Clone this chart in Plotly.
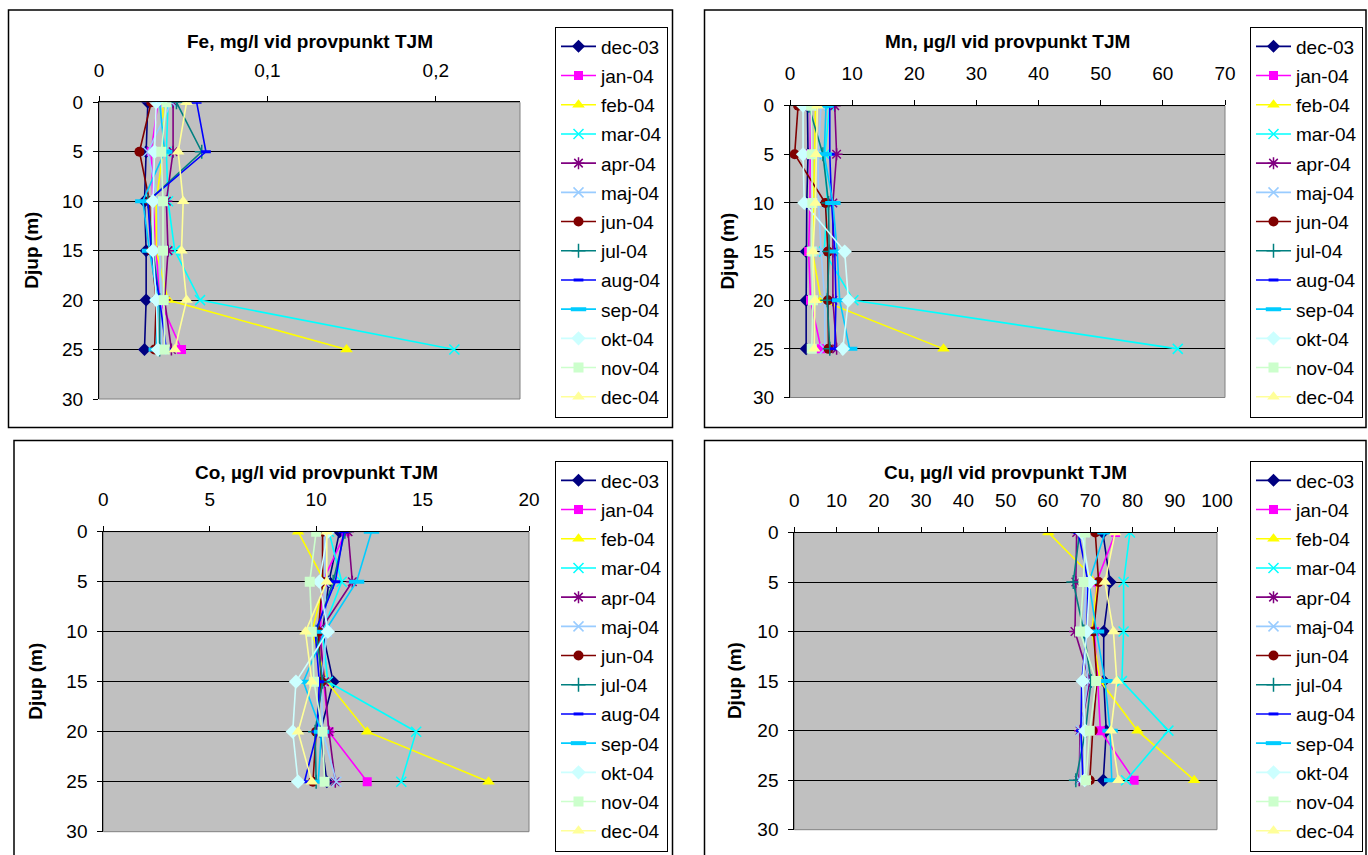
import plotly.graph_objects as go

# ---------------- data ----------------
depths = [0, 5, 10, 15, 20, 25]
months = ["dec-03", "jan-04", "feb-04", "mar-04", "apr-04", "maj-04", "jun-04",
          "jul-04", "aug-04", "sep-04", "okt-04", "nov-04", "dec-04"]

fe_title = "Fe, mg/l vid provpunkt TJM"
fe_dec03 = [0.029, 0.028, 0.027, 0.028, 0.028, 0.027]
fe_jan04 = [0.035, 0.031, 0.032, 0.034, 0.036, 0.049]
fe_feb04 = [0.038, 0.038, 0.034, 0.034, 0.041, 0.147]
fe_mar04 = [0.041, 0.040, 0.041, 0.045, 0.060, 0.211]
fe_apr04 = [0.044, 0.044, 0.040, 0.041, 0.039, 0.043]
fe_maj04 = [0.043, 0.029, 0.035, 0.036, 0.037, 0.037]
fe_jun04 = [0.031, 0.024, 0.030, 0.031, 0.034, 0.033]
fe_jul04 = [0.046, 0.061, 0.029, 0.032, 0.036, 0.036]
fe_aug04 = [0.058, 0.0635, 0.029, 0.031, 0.036, 0.040]
fe_sep04 = [0.036, 0.039, 0.026, 0.030, 0.035, 0.034]
fe_okt04 = [0.034, 0.033, 0.032, 0.032, 0.034, 0.035]
fe_nov04 = [0.040, 0.037, 0.038, 0.038, 0.0385, 0.039]
fe_dec04 = [0.052, 0.047, 0.050, 0.049, 0.052, 0.045]

mn_title = "Mn, µg/l vid provpunkt TJM"
mn_dec03 = [2.8, 2.9, 2.7, 2.6, 2.6, 2.6]
mn_jan04 = [3.3, 3.3, 3.2, 3.0, 3.3, 5.0]
mn_feb04 = [4.1, 4.0, 3.8, 3.6, 5.0, 24.7]
mn_mar04 = [6.4, 5.6, 6.0, 5.5, 10.2, 62.4]
mn_apr04 = [7.2, 7.5, 6.9, 6.9, 6.9, 7.5]
mn_maj04 = [5.0, 4.5, 4.6, 5.0, 5.6, 5.6]
mn_jun04 = [1.3, 0.75, 5.7, 6.1, 6.1, 6.2]
mn_jul04 = [3.0, 5.3, 6.2, 6.3, 6.0, 6.4]
mn_aug04 = [6.4, 6.4, 6.7, 7.2, 7.4, 7.2]
mn_sep04 = [5.8, 5.5, 6.9, 7.6, 8.0, 9.6]
mn_okt04 = [2.1, 2.1, 2.3, 8.8, 9.4, 8.5]
mn_nov04 = [3.4, 3.5, 3.6, 3.5, 3.7, 3.5]
mn_dec04 = [4.4, 4.2, 4.1, 3.7, 4.0, 3.9]

co_title = "Co, µg/l vid provpunkt TJM"
co_dec03 = [11.1, 10.6, 10.3, 10.8, 10.2, 10.5]
co_jan04 = [11.4, 10.3, 10.2, 10.35, 10.6, 12.4]
co_feb04 = [9.15, 10.4, 9.8, 10.5, 12.4, 18.1]
co_mar04 = [10.6, 11.2, 10.3, 10.55, 14.7, 14.0]
co_apr04 = [11.5, 11.7, 10.15, 10.4, 10.6, 10.9]
co_maj04 = [10.4, 10.4, 10.5, 10.25, 10.3, 10.95]
co_jun04 = [10.3, 10.3, 10.1, 10.25, 10.0, 9.85]
co_jul04 = [11.35, 10.8, 10.0, 10.3, 9.95, 10.0]
co_aug04 = [11.3, 10.9, 9.95, 10.15, 10.05, 9.45]
co_sep04 = [12.6, 11.9, 10.4, 9.4, 10.25, 10.1]
co_okt04 = [10.55, 10.15, 10.55, 9.05, 8.9, 9.15]
co_nov04 = [10.0, 9.7, 9.8, 9.9, 10.3, 10.4]
co_dec04 = [10.5, 10.5, 9.5, 9.8, 9.15, 9.8]

cu_title = "Cu, µg/l vid provpunkt TJM"
cu_dec03 = [73.0, 74.7, 73.2, 73.2, 73.8, 73.1]
cu_jan04 = [76.0, 71.5, 71.0, 71.8, 72.4, 80.4]
cu_feb04 = [60.1, 71.7, 70.4, 72.4, 81.2, 94.6]
cu_mar04 = [79.4, 77.9, 77.9, 77.5, 88.5, 78.5]
cu_apr04 = [66.8, 66.6, 66.4, 69.9, 67.6, 67.4]
cu_maj04 = [68.5, 69.2, 68.2, 69.5, 67.8, 67.6]
cu_jun04 = [71.2, 72.0, 70.8, 71.6, 70.6, 69.9]
cu_jul04 = [67.5, 66.0, 68.5, 70.2, 68.9, 66.6]
cu_aug04 = [67.2, 69.5, 69.2, 68.0, 67.8, 68.3]
cu_sep04 = [73.5, 69.7, 71.5, 73.5, 74.7, 75.1]
cu_okt04 = [68.0, 69.9, 69.2, 68.2, 68.8, 68.7]
cu_nov04 = [68.8, 68.4, 67.6, 71.4, 69.9, 69.0]
cu_dec04 = [75.9, 73.5, 75.5, 76.3, 74.9, 76.7]

fe_ticks = [0, 0.1, 0.2]
fe_ticktext = ["0", "0,1", "0,2"]
depth_ticks = [0, 5, 10, 15, 20, 25, 30]
y_title = "Djup (m)"

panels = [
    (fe_title, [fe_dec03, fe_jan04, fe_feb04, fe_mar04, fe_apr04, fe_maj04, fe_jun04,
                fe_jul04, fe_aug04, fe_sep04, fe_okt04, fe_nov04, fe_dec04]),
    (mn_title, [mn_dec03, mn_jan04, mn_feb04, mn_mar04, mn_apr04, mn_maj04, mn_jun04,
                mn_jul04, mn_aug04, mn_sep04, mn_okt04, mn_nov04, mn_dec04]),
    (co_title, [co_dec03, co_jan04, co_feb04, co_mar04, co_apr04, co_maj04, co_jun04,
                co_jul04, co_aug04, co_sep04, co_okt04, co_nov04, co_dec04]),
    (cu_title, [cu_dec03, cu_jan04, cu_feb04, cu_mar04, cu_apr04, cu_maj04, cu_jun04,
                cu_jul04, cu_aug04, cu_sep04, cu_okt04, cu_nov04, cu_dec04]),
]

# ---------------- styles ----------------
styles = [
    dict(color="#000080", symbol="diamond", size=10, lw=0),
    dict(color="#FF00FF", symbol="square", size=9, lw=0),
    dict(color="#FFFF00", symbol="triangle-up", size=11, lw=0),
    dict(color="#00FFFF", symbol="x-thin-open", size=10, lw=1.5),
    dict(color="#800080", symbol="asterisk-open", size=10, lw=1.5),
    dict(color="#99CCFF", symbol="x-thin-open", size=10, lw=1.5),
    dict(color="#800000", symbol="circle", size=10, lw=0),
    dict(color="#008080", symbol="cross-thin-open", size=10, lw=1.5),
    dict(color="#0000FF", symbol="line-ew-open", size=7, lw=3),
    dict(color="#00CCFF", symbol="line-ew-open", size=11, lw=4),
    dict(color="#CCFFFF", symbol="diamond", size=11, lw=0),
    dict(color="#CCFFCC", symbol="square", size=10, lw=0),
    dict(color="#FFFF99", symbol="triangle-up", size=11, lw=0),
]

W, H = 1368, 855
FONT = "Liberation Sans, Arial, sans-serif"


def fx(px):
    return px / W


def fy(py):
    return 1 - py / H


# screen-pixel geometry of each panel
geo = [
    dict(frame=(8.5, 10, 672.5, 427.5), plot=(99, 102.3, 520, 399), xr=[0, 0.25], dt=None,
         legend=(555, 26.5), ytx=32),
    dict(frame=(704.5, 10, 1366, 427.5), plot=(790, 105.7, 1225, 397.5), xr=[0, 70], dt=10,
         legend=(1250, 26.5), ytx=728),
    dict(frame=(14, 440.5, 672.5, 880), plot=(103.3, 531.7, 529, 831.7), xr=[0, 20], dt=5,
         legend=(555, 460.5), ytx=36),
    dict(frame=(704.5, 440.5, 1366, 880), plot=(794.3, 532.5, 1217, 829.7), xr=[0, 100], dt=10,
         legend=(1250, 460.5), ytx=734),
]

fig = go.Figure()
shapes = []
annotations = []
layout = dict(width=W, height=H, margin=dict(l=0, r=0, t=0, b=0, autoexpand=False),
              paper_bgcolor="white", plot_bgcolor="#C0C0C0",
              font=dict(family=FONT, size=19, color="black"),
              showlegend=True)

for i, ((title, series), g) in enumerate(zip(panels, geo), start=1):
    sfx = "" if i == 1 else str(i)
    xa, ya = "x" + sfx, "y" + sfx
    lg = "legend" + sfx
    for m, vals, st in zip(months, series, styles):
        fig.add_trace(go.Scatter(
            x=vals, y=depths, xaxis=xa, yaxis=ya, name=m, legend=lg,
            legendgroup=f"{m}_{i}", mode="lines+markers",
            line=dict(color=st["color"], width=1.6),
            marker=dict(symbol=st["symbol"], size=st["size"], color=st["color"],
                        line=dict(color=st["color"], width=st["lw"])),
            hoverinfo="x+y+name",
        ))
    px0, py0, px1, py1 = g["plot"]
    xaxis = dict(domain=[fx(px0), fx(px1)], anchor=ya, side="top", range=g["xr"],
                 showline=True, linecolor="black", linewidth=1,
                 ticks="outside", ticklen=5, tickcolor="black", tickwidth=1,
                 showgrid=False, zeroline=False, ticklabelstandoff=12,
                 automargin=False, tickfont=dict(size=19))
    if g["dt"] is None:
        xaxis.update(tickmode="array", tickvals=fe_ticks, ticktext=fe_ticktext)
    else:
        xaxis.update(tickmode="linear", tick0=0, dtick=g["dt"])
    yaxis = dict(domain=[fy(py1), fy(py0)], anchor=xa, range=[30, 0],
                 tickmode="array", tickvals=depth_ticks,
                 showline=True, linecolor="black", linewidth=1,
                 ticks="outside", ticklen=5, tickcolor="black", tickwidth=1,
                 showgrid=True, gridcolor="black", gridwidth=1, zeroline=False,
                 ticklabelstandoff=6, automargin=False, tickfont=dict(size=19))
    layout["xaxis" + sfx] = xaxis
    layout["yaxis" + sfx] = yaxis

    lx, ly = g["legend"]
    layout[lg] = dict(x=fx(lx), y=fy(ly), xanchor="left", yanchor="top",
                      xref="paper", yref="paper",
                      bgcolor="white", bordercolor="black", borderwidth=1,
                      font=dict(family=FONT, size=19, color="black"),
                      traceorder="grouped", tracegroupgap=1.5, itemwidth=35)

    # chart-area frame
    f0, f1, f2, f3 = g["frame"]
    shapes.append(dict(type="rect", xref="paper", yref="paper",
                       x0=fx(f0), x1=fx(f2), y0=fy(f3), y1=fy(f1),
                       line=dict(color="black", width=1.5), fillcolor="rgba(0,0,0,0)",
                       layer="above"))
    # plot-area border
    shapes.append(dict(type="rect", xref=xa + " domain", yref=ya + " domain",
                       x0=0, x1=1, y0=0, y1=1,
                       line=dict(color="#808080", width=1), fillcolor="rgba(0,0,0,0)",
                       layer="below"))
    # title
    cy = f1 + 31.5
    annotations.append(dict(text=title, xref=xa + " domain", yref="paper",
                            x=0.5, y=fy(cy), xanchor="center", yanchor="middle",
                            showarrow=False,
                            font=dict(family=FONT, size=19, color="black", weight="bold")))
    # y-axis title
    annotations.append(dict(text=y_title, xref="paper", yref=ya + " domain",
                            x=fx(g["ytx"]), y=0.5, xanchor="center", yanchor="middle",
                            textangle=-90, showarrow=False,
                            font=dict(family=FONT, size=19, color="black", weight="bold")))

layout["shapes"] = shapes
layout["annotations"] = annotations
fig.update_layout(**layout)

fig.write_html("out.html", config={"displayModeBar": False},
               post_script="document.body.style.margin='0';document.body.style.overflow='hidden';")
